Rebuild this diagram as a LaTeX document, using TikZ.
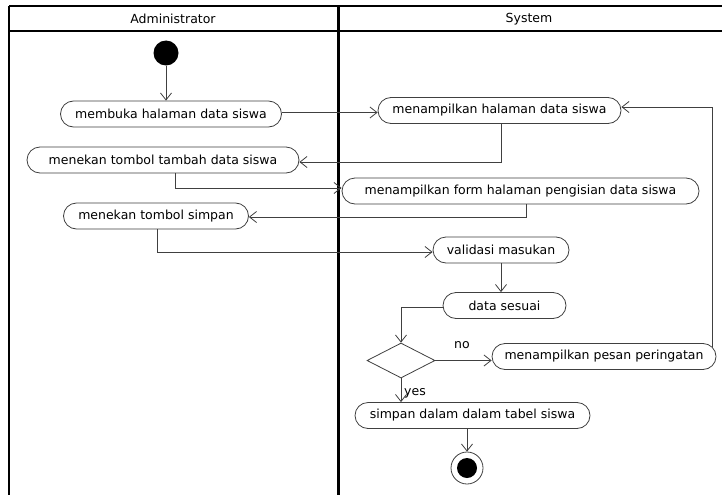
\documentclass[tikz,border=0pt]{standalone}
\usepackage{fontspec}
\setmainfont{DejaVu Sans}
\usetikzlibrary{arrows.meta,calc,shapes.geometric}
\begin{document}
\begin{tikzpicture}[x=1pt,y=-1pt,
  every node/.style={font=\fontsize{12.5}{14}\selectfont, text=black},
  act/.style={draw=black!75, line width=0.8pt, rounded corners=13pt, minimum height=26pt, inner sep=0pt},
  arr/.style={draw=black!75, line width=0.8pt, -{Straight Barb[length=7pt,width=11pt,line width=0.8pt]}},
  lane/.style={draw=black, line width=2pt},
  lbl/.style={inner sep=0pt}]
\useasboundingbox (0,0) rectangle (722,495);
\fill[white] (0,0) rectangle (722,495);
% swimlane frame
\draw[lane] (9,6) -- (722,6);
\draw[lane] (9,31) -- (722,31);
\draw[lane] (9,6) -- (9,495);
\draw[draw=black, line width=3pt] (338,6) -- (338,495);
\node[lbl] (hA) at (173,19) {Administrator};
\node[lbl] (hS) at (529,19) {System};
% nodes
\node[circle, fill=black, minimum size=25pt, inner sep=0pt] (init) at (166,53) {};
\node[act, minimum width=221pt] (a1) at (171,114) {membuka halaman data siswa};
\node[act, minimum width=272pt] (a2) at (163,160) {menekan tombol tambah data siswa};
\node[act, minimum width=185pt] (a3) at (156,216) {menekan tombol simpan};
\node[act, minimum width=243pt] (s1) at (499.5,110.5) {menampilkan halaman data siswa};
\node[act, minimum width=357pt] (s2) at (520.5,191) {menampilkan form halaman pengisian data siswa};
\node[act, minimum width=136pt] (s3) at (501,250) {validasi masukan};
\node[act, minimum width=123pt] (s4) at (504.5,305.5) {data sesuai};
\node[diamond, draw=black!75, line width=0.8pt, minimum width=68pt, minimum height=35pt, inner sep=0pt] (d) at (401,360.5) {};
\node[act, minimum width=224pt] (s5) at (604,356.5) {menampilkan pesan peringatan};
\node[act, minimum width=235pt] (s6) at (472.5,415.5) {simpan dalam dalam tabel siswa};
\node[circle, draw=black!75, line width=0.8pt, minimum size=32pt, inner sep=0pt] (fin) at (467,468) {};
\node[circle, fill=black, minimum size=20pt, inner sep=0pt] (finin) at (fin.center) {};
% connectors
\draw[arr] (init.south) -- (init.south |- a1.north);
\draw[arr] ($(a1.east)+(0,-1.5)$) -- ($(s1.west |- a1.east)+(0,-1.5)$);
\draw[arr] ($(s1.south)+(1.5,0)$) |- ($(a2.east)+(0,2)$);
\draw[arr] ($(a2.south)+(12,0)$) |- ($(s2.west)+(0,-3)$);
\draw[arr] ($(s2.south)+(5.5,0)$) |- ($(a3.east)+(0,1)$);
\draw[arr] ($(a3.south)+(1,0)$) |- ($(s3.west)+(0,2)$);
\draw[arr] (s3.south) -- (s3.south |- s4.north);
\draw[arr] ($(s4.west)+(0,1.5)$) -| (d.north);
\draw[arr] (d.east) -- (d.east -| s5.west);
\node[lbl] (no) at (462,345) {no};
\draw[arr] ($(s5.north east)+(-4,3.5)$) |- ($(s1.east)+(0,-3.5)$);
\draw[arr] (d.south) -- (d.south |- s6.north);
\node[lbl, anchor=west] (yes) at (404,393) {yes};
\draw[arr] (fin |- s6.south) -- (fin.north);
\end{tikzpicture}
\end{document}
